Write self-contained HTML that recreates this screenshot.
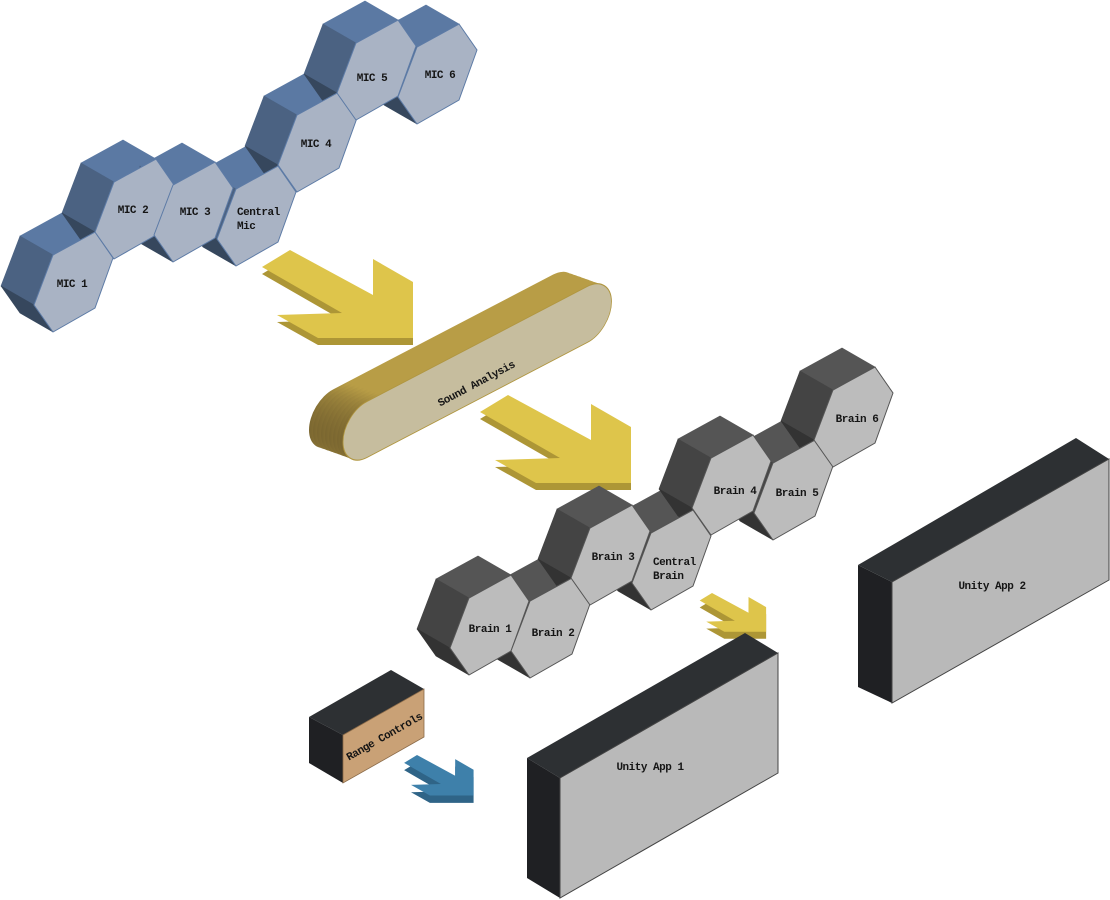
<!DOCTYPE html>
<html><head><meta charset="utf-8"><style>
html,body{margin:0;padding:0;background:#fff;}
svg{display:block;}
text{font-family:"Liberation Mono",monospace;font-weight:bold;font-size:11px;fill:#151515;letter-spacing:-0.5px;}
</style></head><body>
<svg width="1110" height="900" viewBox="0 0 1110 900" xmlns="http://www.w3.org/2000/svg">
<defs>
<g id="mext">
<polygon points="-21,-27 21,-50 -12,-69 -54,-46" fill="#5b79a3" stroke="#5b79a3" stroke-width="0.6"/>
<polygon points="-40,23 -21,-27 -54,-46 -73,4" fill="#4b6282" stroke="#4b6282" stroke-width="0.6"/>
<polygon points="-21,50 -40,23 -73,4 -54,31" fill="#36475d" stroke="#36475d" stroke-width="0.6"/>
</g>
<polygon id="mface" points="-21,-27 21,-50 39,-24 21,26 -21,50 -40,23" fill="#a9b3c4" stroke="#5d7ba6" stroke-width="1"/>
<g id="bext">
<polygon points="-21,-27 21,-50 -12,-69 -54,-46" fill="#555555" stroke="#555555" stroke-width="0.6"/>
<polygon points="-40,23 -21,-27 -54,-46 -73,4" fill="#444444" stroke="#444444" stroke-width="0.6"/>
<polygon points="-21,50 -40,23 -73,4 -54,31" fill="#333333" stroke="#333333" stroke-width="0.6"/>
</g>
<polygon id="bface" points="-21,-27 21,-50 39,-24 21,26 -21,50 -40,23" fill="#bcbcbc" stroke="#555" stroke-width="1"/>
<polygon id="arr" points="0,0 83,45 83,9 123,32 123,88 28,88 -13,65 52,63 -28,17"/>
<linearGradient id="capg" x1="0" y1="0" x2="45" y2="0" gradientUnits="userSpaceOnUse">
<stop offset="0" stop-color="#7a6630"/><stop offset="1" stop-color="#b89d46"/>
</linearGradient>
</defs>

<!-- MIC hexes -->
<use href="#mext" x="74" y="282"/>
<use href="#mext" x="135" y="209"/>
<use href="#mext" x="194" y="212"/>
<use href="#mext" x="257" y="216"/>
<use href="#mext" x="318" y="142"/>
<use href="#mext" x="377" y="70"/>
<use href="#mext" x="438" y="74"/>
<use href="#mface" x="74" y="282"/>
<use href="#mface" x="135" y="209"/>
<use href="#mface" x="194" y="212"/>
<use href="#mface" x="257" y="216"/>
<use href="#mface" x="318" y="142"/>
<use href="#mface" x="377" y="70"/>
<use href="#mface" x="438" y="74"/>
<text x="72" y="287" text-anchor="middle">MIC 1</text>
<text x="133" y="213" text-anchor="middle">MIC 2</text>
<text x="195" y="215" text-anchor="middle">MIC 3</text>
<text x="237" y="215">Central</text>
<text x="237" y="229">Mic</text>
<text x="316" y="147" text-anchor="middle">MIC 4</text>
<text x="372" y="81" text-anchor="middle">MIC 5</text>
<text x="440" y="78" text-anchor="middle">MIC 6</text>

<!-- Arrow 1 -->
<g transform="translate(290,250)">
<use href="#arr" y="7" fill="#ad9636"/>
<use href="#arr" fill="#dec54b"/>
</g>

<!-- Sound Analysis pill -->
<g>
<g transform="translate(-34,-12)"><rect transform="matrix(0.866,-0.452,0,1,343,414)" x="0" y="0" width="310" height="56" rx="28" fill="url(#capg)"/></g>
<g transform="translate(-30,-10.6)"><rect transform="matrix(0.866,-0.452,0,1,343,414)" x="0" y="0" width="310" height="56" rx="28" fill="url(#capg)"/></g>
<g transform="translate(-26,-9.2)"><rect transform="matrix(0.866,-0.452,0,1,343,414)" x="0" y="0" width="310" height="56" rx="28" fill="url(#capg)"/></g>
<g transform="translate(-22,-7.8)"><rect transform="matrix(0.866,-0.452,0,1,343,414)" x="0" y="0" width="310" height="56" rx="28" fill="url(#capg)"/></g>
<g transform="translate(-18,-6.4)"><rect transform="matrix(0.866,-0.452,0,1,343,414)" x="0" y="0" width="310" height="56" rx="28" fill="url(#capg)"/></g>
<g transform="translate(-14,-5)"><rect transform="matrix(0.866,-0.452,0,1,343,414)" x="0" y="0" width="310" height="56" rx="28" fill="url(#capg)"/></g>
<g transform="translate(-10,-3.5)"><rect transform="matrix(0.866,-0.452,0,1,343,414)" x="0" y="0" width="310" height="56" rx="28" fill="url(#capg)"/></g>
<g transform="translate(-6,-2.1)"><rect transform="matrix(0.866,-0.452,0,1,343,414)" x="0" y="0" width="310" height="56" rx="28" fill="url(#capg)"/></g>
<g transform="translate(-3,-1)"><rect transform="matrix(0.866,-0.452,0,1,343,414)" x="0" y="0" width="310" height="56" rx="28" fill="url(#capg)"/></g>
<rect transform="matrix(0.866,-0.452,0,1,343,414)" x="0" y="0" width="310" height="56" rx="28" fill="#c6bd9e" stroke="#b09640" stroke-width="1"/>
<text x="476" y="387" text-anchor="middle" transform="rotate(-28 476 383)">Sound Analysis</text>
</g>

<!-- Arrow 2 -->
<g transform="translate(508,395)">
<use href="#arr" y="7" fill="#ad9636"/>
<use href="#arr" fill="#dec54b"/>
</g>

<!-- Brain hexes -->
<use href="#bext" x="490" y="625"/>
<use href="#bext" x="551" y="628"/>
<use href="#bext" x="611" y="555"/>
<use href="#bext" x="672" y="560"/>
<use href="#bext" x="732" y="485"/>
<use href="#bext" x="794" y="490"/>
<use href="#bext" x="854" y="417"/>
<use href="#bface" x="490" y="625"/>
<use href="#bface" x="551" y="628"/>
<use href="#bface" x="611" y="555"/>
<use href="#bface" x="672" y="560"/>
<use href="#bface" x="732" y="485"/>
<use href="#bface" x="794" y="490"/>
<use href="#bface" x="854" y="417"/>
<text x="490" y="632" text-anchor="middle">Brain 1</text>
<text x="553" y="636" text-anchor="middle">Brain 2</text>
<text x="613" y="560" text-anchor="middle">Brain 3</text>
<text x="653" y="565">Central</text>
<text x="653" y="579">Brain</text>
<text x="735" y="494" text-anchor="middle">Brain 4</text>
<text x="797" y="496" text-anchor="middle">Brain 5</text>
<text x="857" y="422" text-anchor="middle">Brain 6</text>

<!-- small yellow arrow -->
<g transform="translate(712,593) scale(0.44)">
<use href="#arr" y="16" fill="#ad9636"/>
<use href="#arr" fill="#dec54b"/>
</g>

<!-- Unity App 2 -->
<polygon points="858,565 1076,438 1109,459 892,582" fill="#2d3033"/>
<polygon points="858,565 892,582 892,703 858,687" fill="#1f2023"/>
<polygon points="892,582 1109,459 1109,580 892,703" fill="#b9b9b9" stroke="#444" stroke-width="1"/>
<text x="992" y="589" text-anchor="middle">Unity App 2</text>

<!-- Unity App 1 -->
<polygon points="527,758 745,633 778,653 560,778" fill="#2d3033"/>
<polygon points="527,758 560,778 560,898 527,878" fill="#1f2023"/>
<polygon points="560,778 778,653 778,773 560,898" fill="#b9b9b9" stroke="#444" stroke-width="1"/>
<text x="650" y="770" text-anchor="middle">Unity App 1</text>

<!-- Range Controls -->
<polygon points="309,717 391,670 424,689 343,735" fill="#2d3033"/>
<polygon points="309,717 343,735 343,783 309,763" fill="#1f2023"/>
<polygon points="343,735 424,689 424,737 343,783" fill="#c9a176" stroke="#8a6a48" stroke-width="0.8"/>
<text x="384" y="740" text-anchor="middle" font-size="10.5" transform="rotate(-29.6 384 736)">Range Controls</text>

<!-- blue arrow -->
<g transform="translate(417,755) scale(0.46)">
<use href="#arr" y="16" fill="#2f6487"/>
<use href="#arr" fill="#3e80aa"/>
</g>
</svg>
</body></html>
